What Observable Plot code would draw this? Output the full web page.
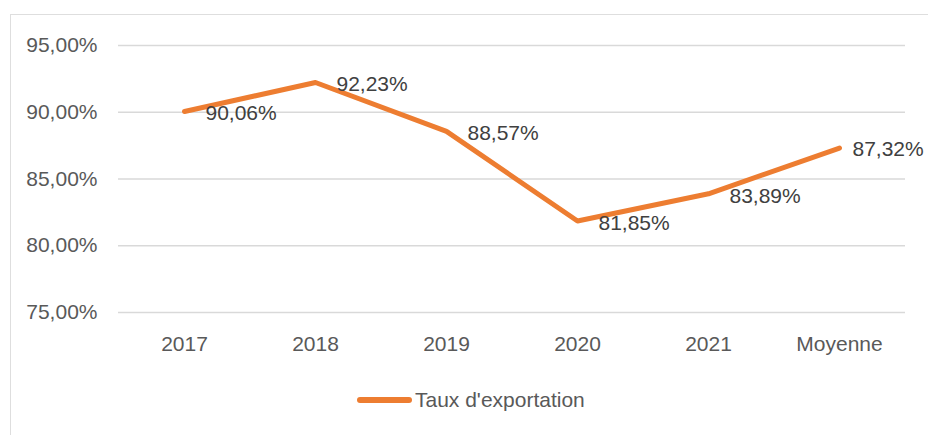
<!DOCTYPE html>
<html>
<head>
<meta charset="utf-8">
<script src="https://cdn.jsdelivr.net/npm/d3@7"></script>
<script src="https://cdn.jsdelivr.net/npm/@observablehq/plot@0.6"></script>
<style>
  html, body { margin: 0; padding: 0; background: #fff; }
  body { width: 928px; height: 435px; position: relative; overflow: hidden; font-family: "Liberation Sans", Arial, sans-serif; }
  #frame { position: absolute; left: 10px; top: 14px; width: 940px; height: 440px; border: 1.5px solid #dedede; box-sizing: border-box; }
  #chart { position: absolute; left: 0; top: 0; }
  #legend { position: absolute; left: 357px; top: 387px; display: flex; align-items: center; font-size: 21px; color: #595959; line-height: 26px; }
  #legend .sw { width: 55px; height: 6px; background: #ED7D31; border-radius: 3px; margin-right: 3px; }
</style>
</head>
<body>
<div id="frame"></div>
<div id="chart"></div>
<div id="legend"><span class="sw"></span><span>Taux d'exportation</span></div>
<script>
const categories = ["2017", "2018", "2019", "2020", "2021", "Moyenne"];
const values = [90.06, 92.23, 88.57, 81.85, 83.89, 87.32];
const yTicks = [75, 80, 85, 90, 95];
const seriesName = "Taux d'exportation";

const data = categories.map((c, i) => ({cat: c, v: values[i]}));
const fmt = d => d.toFixed(2).replace(".", ",") + "%";
const last = categories[categories.length - 1];

const chart = Plot.plot({
  width: 928,
  height: 370,
  marginLeft: 118,
  marginRight: 23,
  marginTop: 45,
  marginBottom: 58,
  style: { fontFamily: "'Liberation Sans', Arial, sans-serif", fontSize: "21px", color: "#595959", background: "transparent", overflow: "visible" },
  x: { type: "point", domain: categories, padding: 0.5, label: null },
  y: { domain: [75, 95], label: null },
  marks: [
    Plot.ruleY(yTicks, { stroke: "#d9d9d9", strokeWidth: 1.5 }),
    Plot.axisY({ ticks: yTicks, tickFormat: fmt, tickSize: 0, tickPadding: 21, fontSize: 21, fill: "#595959" }),
    Plot.axisX({ tickSize: 0, tickPadding: 24, fontSize: 21, fill: "#595959" }),
    Plot.line(data, { x: "cat", y: "v", stroke: "#ED7D31", strokeWidth: 5, strokeLinejoin: "round", strokeLinecap: "round" }),
    Plot.text(data.filter(d => d.cat !== last), { x: "cat", y: "v", text: d => fmt(d.v), textAnchor: "start", dx: 21, dy: 2, fontSize: 21, fill: "#404040" }),
    Plot.text(data.filter(d => d.cat === last), { x: "cat", y: "v", text: d => fmt(d.v), textAnchor: "start", dx: 13, dy: 1, fontSize: 21, fill: "#404040" })
  ]
});
document.getElementById("chart").appendChild(chart);
</script>
</body>
</html>
